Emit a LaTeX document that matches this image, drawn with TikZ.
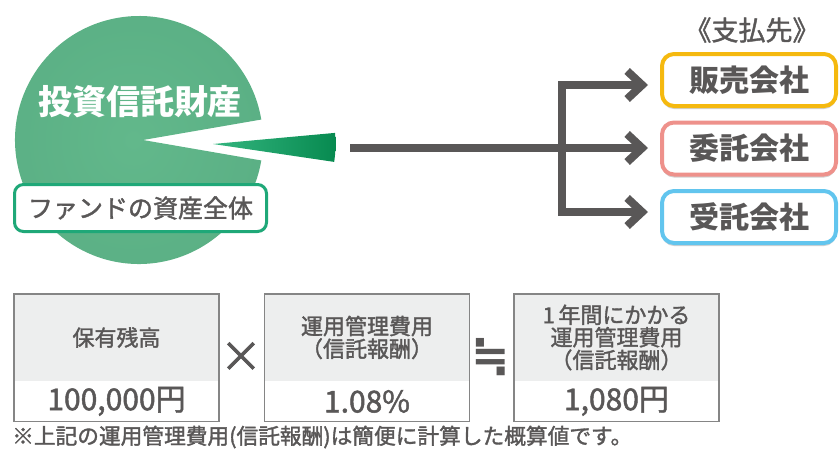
\documentclass[tikz,border=0pt]{standalone}
\usepackage{fontspec}
\setmainfont{Noto Sans CJK JP}
\newfontfamily\med{Noto Sans CJK JP}[FakeBold=1.6]
\newfontfamily\dv{DejaVu Sans}
\usetikzlibrary{arrows.meta,shadows,calc}
\definecolor{txt}{HTML}{595757}
\definecolor{pieIn}{HTML}{62B88B}
\definecolor{pieOut}{HTML}{5BB085}
\definecolor{wedgeL}{HTML}{34B57F}
\definecolor{wedgeR}{HTML}{078A50}
\definecolor{fundgreen}{HTML}{1FA878}
\definecolor{cOrange}{HTML}{F5B90F}
\definecolor{cPink}{HTML}{EE918B}
\definecolor{cBlue}{HTML}{62C5EE}
\definecolor{boxgray}{HTML}{EDEEEE}
\definecolor{boxline}{HTML}{858585}
\newcommand{\fs}[1]{\fontsize{#1}{#1}\selectfont}
\tikzset{barb/.tip={Straight Barb[sharp, length=15pt, width=28pt]}}
\begin{document}
\begin{tikzpicture}[x=1pt,y=1pt,
  payee/.style={draw, line width=4pt, rounded corners=12pt, fill=white,
    minimum width=174pt, minimum height=52pt, inner sep=0pt,
    font=\fs{30}\bfseries, text=txt,
    drop shadow={shadow xshift=0pt, shadow yshift=-3pt, opacity=0.3, fill=black!60}},
  flow/.style={draw=txt, line width=8pt, line join=miter},
  toppart/.style={fill=boxgray, minimum width=205pt, minimum height=87pt, inner sep=0pt,
    text=txt, font=\med\fs{22}, align=center},
  valpart/.style={fill=white, minimum width=205pt, minimum height=40pt, inner sep=0pt,
    text=txt, font=\med\fs{30}},
  outline/.style={draw=boxline, line width=1.5pt},
  op/.style={text=txt, inner sep=0pt}]
\useasboundingbox (0,0) rectangle (839,-448);

% pie with notch
\shade[inner color=pieIn, outer color=pieOut]
  (143,-140) -- ($(139,-140)+(9.5:124)$) arc[start angle=9.5, end angle=350.5, radius=124] -- cycle;
% detached wedge
\shade[left color=wedgeL, right color=wedgeR]
  (213,-144) -- ++(5.2:122.5) arc[start angle=5.2, end angle=-8.4, radius=122.5] -- cycle;

\node[text=white, font=\fs{34}\bfseries] (title) at (140,-102) {投資信託財産};
\node[draw=fundgreen, line width=3pt, rounded corners=9pt, fill=white,
  minimum width=252pt, minimum height=47pt, inner sep=0pt, text=txt, font=\med\fs{25}]
  (fund) at (140.5,-208) {ファンドの資産全体};

% payees
\node[text=txt, font=\med\fs{27}] (head) at (752,-30) {《支払先》};
\node[payee, draw=cOrange] (b1) at (749,-80) {販売会社};
\node[payee, draw=cPink]   (b2) at (749,-148.5) {委託会社};
\node[payee, draw=cBlue]   (b3) at (749,-217) {受託会社};

\coordinate (src) at (350,-148);
\coordinate (jn1) at (562,-85);
\coordinate (jn2) at (562,-148);
\coordinate (jn3) at (562,-212);
\draw[flow, barb-barb, shorten <=12pt, shorten >=12pt]
  (jn1 -| b1.west) -- (jn1) -- (jn3) -- (jn3 -| b3.west);
\draw[flow, -barb, shorten >=12pt] (src) -- (jn2 -| b2.west);

% calculation boxes
\node[toppart] (k1) at (116.5,-337.5) {保有残高};
\node[valpart, anchor=north] (v1) at (k1.south) {100,000円};
\draw[outline] (k1.north west) rectangle (v1.south east);

\node[toppart] (k2) at (367,-337.5) {\raisebox{-6pt}{\shortstack{運用管理費用\\[-1pt]（信託報酬）}}};
\node[valpart, anchor=north] (v2) at (k2.south) {1.08\%};
\draw[outline] (k2.north west) rectangle (v2.south east);

\node[toppart] (k3) at (616.5,-337.5) {\shortstack{1\,年間にかかる\\[-1pt]運用管理費用\\[-1pt]（信託報酬）}};
\node[valpart, anchor=north] (v3) at (k3.south) {1,080円};
\draw[outline] (k3.north west) rectangle (v3.south east);

\node[op, font=\med\fs{42}] (times) at (241,-357) {×};
\node[op, font=\dv\bfseries\fs{46}] (approx) at (491,-357) {≒};

\node[anchor=west, text=txt, font=\med\fs{21.7}, inner sep=0pt] (note) at (12,-437)
  {※上記の運用管理費用(信託報酬)は簡便に計算した概算値です。};
\end{tikzpicture}
\end{document}
